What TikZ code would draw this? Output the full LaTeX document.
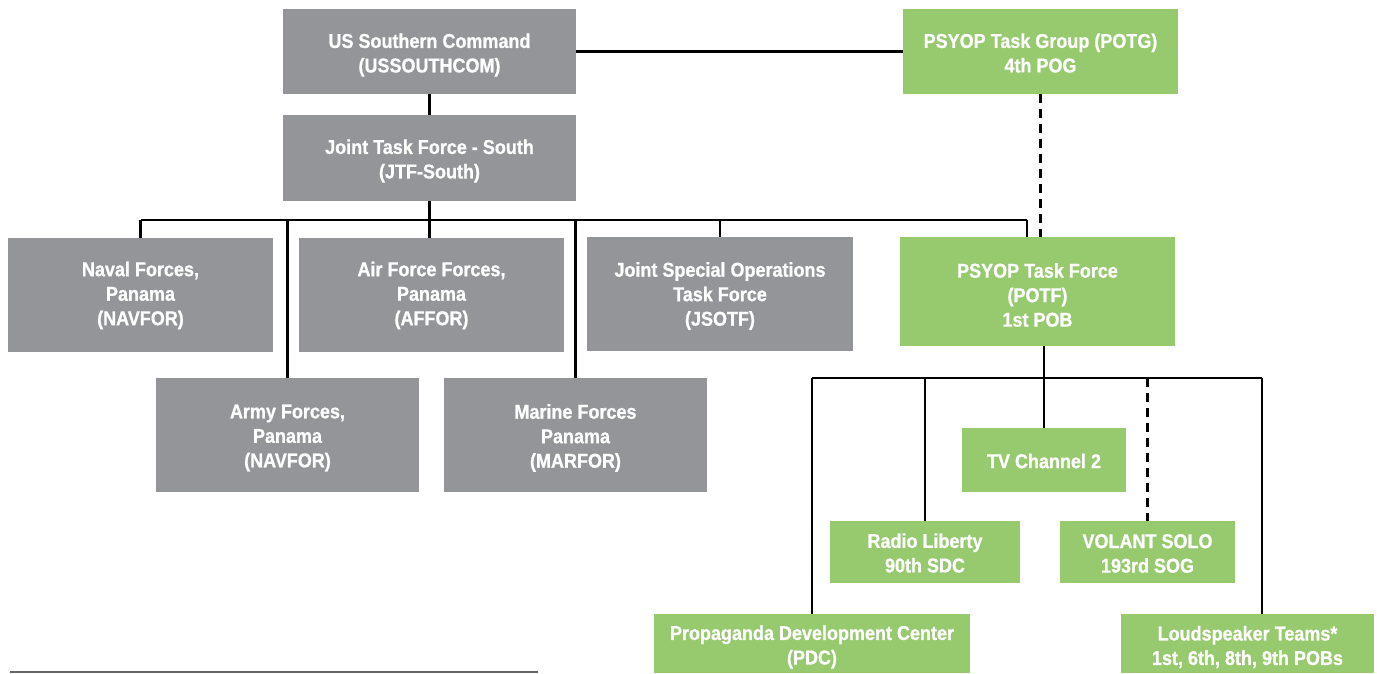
\documentclass[tikz,border=0pt]{standalone}
\usepackage{fontspec}
\newfontfamily\boxfont{Liberation Sans}[FakeStretch=0.9,FakeBold=0.8]
\definecolor{boxgray}{RGB}{147,149,152}
\definecolor{boxgreen}{RGB}{151,201,111}
\definecolor{rulegray}{RGB}{100,100,100}
\tikzset{
  orgbox/.style={draw=none, inner sep=0pt},
  graybox/.style={orgbox, fill=boxgray},
  greenbox/.style={orgbox, fill=boxgreen},
  boxtext/.style={inner sep=0pt, align=center, text=white,
    font=\boxfont\bfseries\fontsize{20}{24.5}\selectfont},
  link/.style={draw=black, line width=2.6pt},
  dashlink/.style={link, dash pattern=on 9pt off 6pt},
}
\begin{document}
\begin{tikzpicture}[x=1pt,y=-1pt]
\useasboundingbox (0,0) rectangle (1377,673);
% boxes
\node[graybox, minimum width=293, minimum height=85] (ussc) at (429.5,51.5) {};
\node[graybox, minimum width=293, minimum height=86] (jtf) at (429.5,158) {};
\node[greenbox, minimum width=275, minimum height=85] (potg) at (1040.5,51.5) {};
\node[graybox, minimum width=265, minimum height=114] (naval) at (140.5,295) {};
\node[graybox, minimum width=265, minimum height=114] (air) at (431.5,295) {};
\node[graybox, minimum width=266, minimum height=114] (jsotf) at (720,294) {};
\node[greenbox, minimum width=275, minimum height=109] (potf) at (1037.5,291.5) {};
\node[graybox, minimum width=263, minimum height=114] (army) at (287.5,435) {};
\node[graybox, minimum width=263, minimum height=114] (marine) at (575.5,435) {};
\node[greenbox, minimum width=164, minimum height=64] (tv) at (1044,460) {};
\node[greenbox, minimum width=190, minimum height=62] (radio) at (925,552) {};
\node[greenbox, minimum width=175, minimum height=62] (volant) at (1147.5,552) {};
\node[greenbox, minimum width=316, minimum height=59] (pdc) at (812,643.5) {};
\node[greenbox, minimum width=253, minimum height=59] (loud) at (1247.5,643.5) {};
% texts
\node[boxtext] (ussc-t) at ([yshift=-3.5pt]ussc.center) {US Southern Command\\(USSOUTHCOM)};
\node[boxtext] (jtf-t) at ([yshift=-3pt]jtf.center) {Joint Task Force - South\\(JTF-South)};
\node[boxtext] (potg-t) at ([yshift=-1.5pt]potg.center) {PSYOP Task Group (POTG)\\4th POG};
\node[boxtext] (naval-t) at ([yshift=-0.5pt]naval.center) {Naval Forces,\\Panama\\(NAVFOR)};
\node[boxtext] (air-t) at ([yshift=-0.5pt]air.center) {Air Force Forces,\\Panama\\(AFFOR)};
\node[boxtext] (jsotf-t) at ([yshift=-2pt]jsotf.center) {Joint Special Operations\\Task Force\\(JSOTF)};
\node[boxtext] (potf-t) at ([yshift=-3.5pt]potf.center) {PSYOP Task Force\\(POTF)\\1st POB};
\node[boxtext] (army-t) at ([yshift=-3pt]army.center) {Army Forces,\\Panama\\(NAVFOR)};
\node[boxtext] (marine-t) at ([yshift=-3pt]marine.center) {Marine Forces\\Panama\\(MARFOR)};
\node[boxtext] (tv-t) at ([yshift=-1pt]tv.center) {TV Channel 2};
\node[boxtext] (radio-t) at ([yshift=-1pt]radio.center) {Radio Liberty\\90th SDC};
\node[boxtext] (volant-t) at ([yshift=-1.5pt]volant.center) {VOLANT SOLO\\193rd SOG};
\node[boxtext] (pdc-t) at ([yshift=-3.5pt]pdc.center) {Propaganda Development Center\\(PDC)};
\node[boxtext] (loud-t) at ([yshift=-3.5pt]loud.center) {Loudspeaker Teams*\\1st, 6th, 8th, 9th POBs};
% bus coordinates
\coordinate (busA) at (0,220);
\coordinate (busB) at (0,378);
\coordinate (potfdrop) at ([xshift=-10.5pt]potf.north);
\coordinate (louddrop) at ([xshift=14.5pt]loud.north);
% connectors
\draw[link] (ussc.east) -- (potg.west);
\draw[link] (ussc.south) -- (jtf.north);
\draw[link] (jtf.south) -- (jtf.south |- busA);
\draw[link] (naval.north |- busA) -- (potfdrop |- busA);
\draw[link] (naval.north |- busA) -- (naval.north);
\draw[link] (army.north |- busA) -- (army.north);
\draw[link] (jtf.south |- busA) -- (jtf.south |- air.north);
\draw[link] (marine.north |- busA) -- (marine.north);
\draw[link] (jsotf.north |- busA) -- (jsotf.north);
\draw[link] (potfdrop |- busA) -- (potfdrop);
\draw[dashlink] (potg.south) -- (potg.south |- potf.north);
\draw[link] (tv.north |- potf.south) -- (tv.north);
\draw[link] (pdc.north |- busB) -- (louddrop |- busB);
\draw[link] (pdc.north |- busB) -- (pdc.north);
\draw[link] (radio.north |- busB) -- (radio.north);
\draw[dashlink] (volant.north |- busB) -- (volant.north);
\draw[link] (louddrop |- busB) -- (louddrop);
% footnote rule
\coordinate (ruleL) at (10,672);
\coordinate (ruleR) at (538,672);
\draw[rulegray, line width=1.2pt] (ruleL) -- (ruleR);
\end{tikzpicture}
\end{document}
